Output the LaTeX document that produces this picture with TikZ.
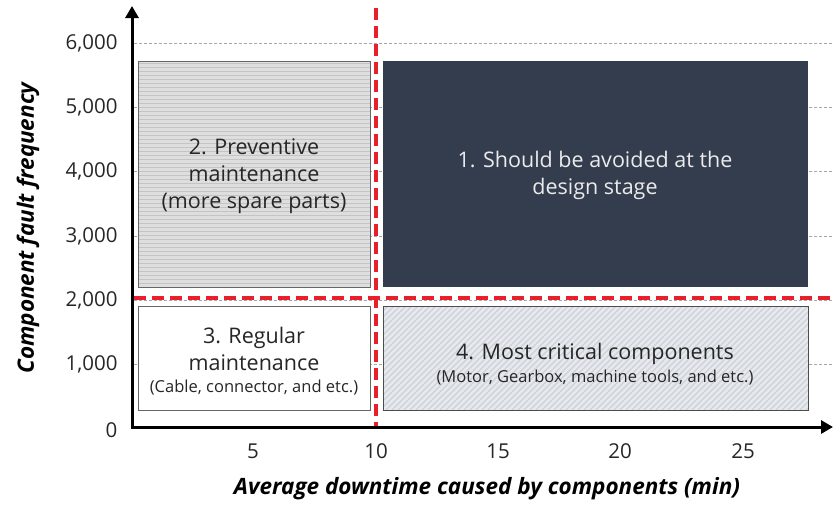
\documentclass[tikz,border=0pt]{standalone}
\usepackage{fontspec}
\setmainfont{Open Sans}
\usetikzlibrary{arrows.meta}
\definecolor{darkbox}{HTML}{343D4E}
\definecolor{redline}{HTML}{E8202A}
\definecolor{gridc}{HTML}{A6A6A6}
\definecolor{boxtwo}{HTML}{DEDEDE}
\definecolor{boxtwoline}{HTML}{C4C4C4}
\definecolor{boxfour}{HTML}{E6E9ED}
\definecolor{boxfourline}{HTML}{CDD2D9}
\newcommand{\mysmallfs}{\fontsize{16.5}{20}\selectfont}
\begin{document}
\begin{tikzpicture}[x=1pt,y=-1pt,
  gridline/.style={gridc,line width=0.6pt,dash pattern=on 3pt off 2pt},
  axisline/.style={line width=3pt,-{Triangle[length=12pt,width=13pt]}},
  reddash/.style={redline,line width=3.5pt,dash pattern=on 12pt off 6pt},
  ticklab/.style={font=\fontsize{20.5}{24}\selectfont,text=black!85},
  boxtext/.style={align=center,font=\fontsize{21.5}{27}\selectfont,text=black!85}
]
\useasboundingbox (0,0) rectangle (833,504);
% grid lines
\foreach \yv in {43,107,171,236,300,364}
  \draw[gridline] (134,\yv) -- (833,\yv);
% box 2
\fill[boxtwo] (138,61) rectangle (370,287);
\begin{scope}
\clip (138,61) rectangle (370,287);
\foreach \yy in {63,67,...,287}
  \draw[boxtwoline,line width=0.5pt] (138,\yy) -- (370,\yy);
\end{scope}
\node[draw=gray!80!black,line width=0.8pt,minimum width=232pt,minimum height=226pt,anchor=north west,inner sep=0pt] (b2) at (138,61) {};
\node[boxtext] (t2) at (254,176) {2. Preventive\\maintenance\\(more spare parts)};
% box 1
\node[fill=darkbox,minimum width=425pt,minimum height=226pt,anchor=north west,inner sep=0pt] (b1) at (383,61) {};
\node[boxtext,text=white!92!black] (t1) at (595,175) {1. Should be avoided at the\\design stage};
% box 3
\node[draw=gray!80!black,fill=white,line width=0.8pt,minimum width=232pt,minimum height=104pt,anchor=north west,inner sep=0pt] (b3) at (138,306) {};
\node[boxtext] (t3) at (254,361) {3. Regular\\maintenance\\[-5pt]{\mysmallfs (Cable, connector, and etc.)}};
% box 4
\fill[boxfour] (383,306) rectangle (808,410);
\begin{scope}
\clip (383,306) rectangle (808,410);
\foreach \xx in {260,266,...,810}
  \draw[boxfourline,line width=1.2pt] (\xx,410) -- ++(104,-104);
\end{scope}
\node[draw=black!70,line width=0.8pt,minimum width=425pt,minimum height=104pt,anchor=north west,inner sep=0pt] (b4) at (383,306) {};
\node[boxtext] (t4) at (595,364) {4. Most critical components\\[-4pt]{\mysmallfs (Motor, Gearbox, machine tools, and etc.)}};
% red dashed lines
\coordinate (rvt) at (376,8);
\coordinate (rvb) at (376,427);
\coordinate (rhl) at (134,298);
\coordinate (rhr) at (833,298);
\draw[reddash] (rhl) -- (rhr);
\draw[reddash] (rvt) -- (rvb);
% axes
\coordinate (o) at (132,427);
\coordinate (ytop) at (132,6);
\coordinate (xend) at (833,427);
\draw[axisline] ([yshift=-1.5pt]o) -- (ytop);
\draw[axisline] ([xshift=-1.5pt]o) -- (xend);
% y tick labels
\foreach \yv/\lab in {43/{6,000},107/{5,000},171/{4,000},236/{3,000},300/{2,000},364/{1,000},430/0}
  \node[ticklab,anchor=east] at (121,\yv) {\lab};
% x tick labels
\foreach \xv/\lab in {253/5,376/10,498/15,620/20,743/25}
  \node[ticklab] at (\xv,451) {\lab};
% axis titles
\node[font=\fontsize{22.5}{26}\selectfont\bfseries\itshape,rotate=90] (yt) at (28,228) {Component fault frequency};
\node[font=\fontsize{22.5}{26}\selectfont\bfseries\itshape] (xt) at (487,489) {Average downtime caused by components (min)};
\end{tikzpicture}
\end{document}
